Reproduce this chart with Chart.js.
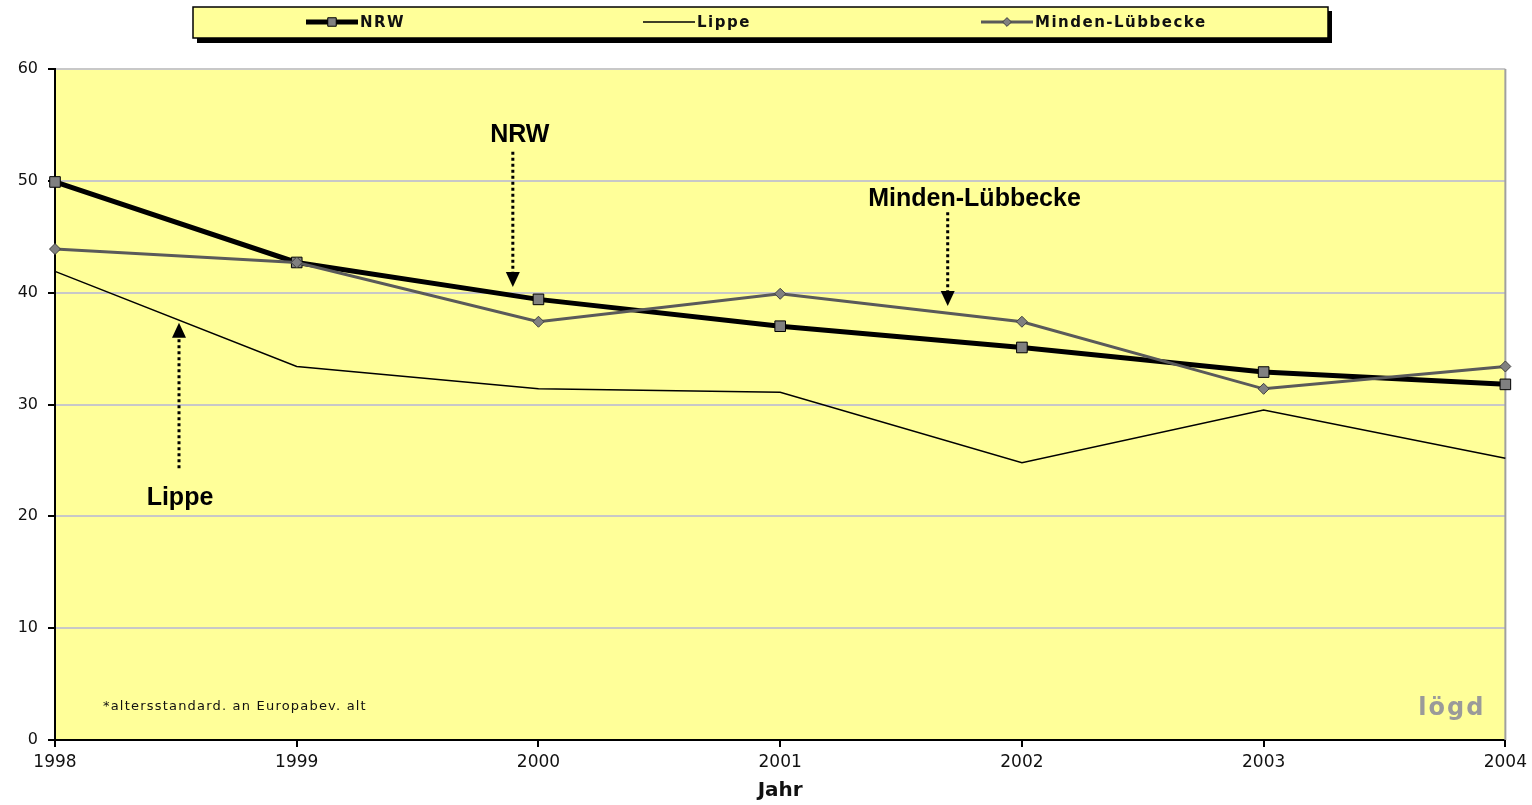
<!DOCTYPE html>
<html>
<head>
<meta charset="utf-8">
<script src="https://cdn.jsdelivr.net/npm/chart.js"></script>
<style>
body { margin: 0; background: #fff; }
#wrap { width: 1532px; height: 805px; position: relative; }
</style>
</head>
<body>
<div id="wrap"><canvas id="myChart"></canvas></div>
<script>
// data
var years = ["1998", "1999", "2000", "2001", "2002", "2003", "2004"];
var nrw = [49.9, 42.7, 39.4, 37.0, 35.1, 32.9, 31.8];
var lippe = [41.9, 33.4, 31.4, 31.1, 24.8, 29.5, 25.2];
var minden = [43.9, 42.7, 37.4, 39.9, 37.4, 31.4, 33.4];
var yTicks = [0, 10, 20, 30, 40, 50, 60];
var seriesNames = ["NRW", "Lippe", "Minden-Lübbecke"];
var xTitle = "Jahr";
var footnote = "*altersstandard. an Europabev. alt";
var logo = "lögd";

// labels with dotted arrows, placed in axis units
var callouts = [
    { text: "NRW", tx: 1.923, ty: 54.1, ax: 1.894, from: 52.6, to: 40.5 },
    { text: "Minden-Lübbecke", tx: 3.804, ty: 48.4, ax: 3.693, from: 47.2, to: 38.8 },
    { text: "Lippe", tx: 0.517, ty: 21.6, ax: 0.513, from: 24.3, to: 37.3 }
];

// where the legend entries start (x of the sample line)
var legendSlots = [306, 643, 981];

var yellow = '#ffff99';

function arrow(ctx, x, y1, y2) {
    var dir = y2 > y1 ? 1 : -1;
    ctx.save();
    ctx.strokeStyle = '#000';
    ctx.fillStyle = '#000';
    ctx.lineWidth = 3;
    ctx.setLineDash([3, 3]);
    ctx.beginPath();
    ctx.moveTo(x, y1);
    ctx.lineTo(x, y2 - dir * 13);
    ctx.stroke();
    ctx.setLineDash([]);
    ctx.beginPath();
    ctx.moveTo(x, y2);
    ctx.lineTo(x - 7, y2 - dir * 15);
    ctx.lineTo(x + 7, y2 - dir * 15);
    ctx.closePath();
    ctx.fill();
    ctx.restore();
}

var plotBack = {
    id: 'plotBack',
    beforeDraw: function(chart) {
        var a = chart.chartArea, ctx = chart.ctx;
        ctx.save();
        ctx.fillStyle = yellow;
        ctx.fillRect(a.left, a.top, a.right - a.left, a.bottom - a.top);
        ctx.restore();
    },
    beforeDatasetsDraw: function(chart) {
        var a = chart.chartArea, ctx = chart.ctx;
        ctx.save();
        ctx.strokeStyle = '#a0a0a0';
        ctx.lineWidth = 2;
        ctx.beginPath();
        ctx.moveTo(a.right, a.top);
        ctx.lineTo(a.right, a.bottom);
        ctx.stroke();
        ctx.restore();
    }
};

var extras = {
    id: 'extras',
    afterDraw: function(chart) {
        var ctx = chart.ctx, xs = chart.scales.x, ys = chart.scales.y;
        var a = chart.chartArea;

        // callouts
        ctx.save();
        ctx.font = 'bold 25px "Liberation Sans", Arial, sans-serif';
        ctx.fillStyle = '#000';
        ctx.textAlign = 'center';
        ctx.textBaseline = 'middle';
        callouts.forEach(function(c) {
            ctx.fillText(c.text, xs.getPixelForValue(c.tx), ys.getPixelForValue(c.ty));
            arrow(ctx, xs.getPixelForValue(c.ax), ys.getPixelForValue(c.from), ys.getPixelForValue(c.to));
        });
        ctx.restore();

        // footnote and logo
        ctx.save();
        ctx.fillStyle = '#111';
        ctx.font = '13px "DejaVu Sans", sans-serif';
        ctx.letterSpacing = '1.2px';
        ctx.textBaseline = 'middle';
        ctx.fillText(footnote, 103, 707);
        ctx.fillStyle = '#9a9a9a';
        ctx.font = 'bold 24px "DejaVu Sans", sans-serif';
        ctx.letterSpacing = '2px';
        ctx.textAlign = 'right';
        ctx.textBaseline = 'alphabetic';
        ctx.fillText(logo, a.right - 20, 715);
        ctx.restore();

        // legend box with shadow
        ctx.save();
        ctx.fillStyle = '#000';
        ctx.fillRect(197, 11, 1135, 32);
        ctx.fillStyle = yellow;
        ctx.fillRect(193, 7, 1135, 31);
        ctx.strokeStyle = '#000';
        ctx.lineWidth = 1.5;
        ctx.strokeRect(193, 7, 1135, 31);

        var cy = 22;
        chart.data.datasets.forEach(function(ds, i) {
            var x0 = legendSlots[i], len = 52;
            ctx.strokeStyle = ds.borderColor;
            ctx.lineWidth = ds.borderWidth;
            ctx.beginPath();
            ctx.moveTo(x0, cy);
            ctx.lineTo(x0 + len, cy);
            ctx.stroke();
            if (ds.pointRadius > 0) {
                ctx.fillStyle = ds.pointBackgroundColor;
                ctx.strokeStyle = ds.pointBorderColor;
                ctx.lineWidth = ds.pointBorderWidth;
                Chart.helpers.drawPoint(ctx, {
                    pointStyle: ds.pointStyle,
                    rotation: 0,
                    radius: ds.pointRadius * 0.8,
                    borderWidth: ds.pointBorderWidth
                }, x0 + len / 2, cy);
            }
            ctx.fillStyle = '#111';
            ctx.font = 'bold 15px "DejaVu Sans", sans-serif';
            ctx.letterSpacing = '1.5px';
            ctx.textBaseline = 'middle';
            ctx.textAlign = 'left';
            ctx.fillText(ds.label, x0 + len + 2, cy + 1);
        });
        ctx.restore();
    }
};

var ctx = document.getElementById('myChart').getContext('2d');
var chart = new Chart(ctx, {
    type: 'line',
    data: {
        labels: years,
        datasets: [{
            label: seriesNames[0],
            data: nrw,
            borderColor: '#000',
            borderWidth: 5,
            pointStyle: 'rect',
            pointRadius: 7.5,
            pointBackgroundColor: '#808080',
            pointBorderColor: '#000',
            pointBorderWidth: 1,
            order: 1,
            clip: false
        }, {
            label: seriesNames[1],
            data: lippe,
            borderColor: '#000',
            borderWidth: 1.5,
            pointRadius: 0,
            order: 2,
            clip: false
        }, {
            label: seriesNames[2],
            data: minden,
            borderColor: '#5a5a5a',
            borderWidth: 3,
            pointStyle: 'rectRot',
            pointRadius: 5.5,
            pointBackgroundColor: '#808080',
            pointBorderColor: '#404040',
            pointBorderWidth: 1,
            order: 0,
            clip: false
        }]
    },
    options: {
        responsive: true,
        maintainAspectRatio: false,
        animation: false,
        layout: { padding: { top: 69, right: 26, bottom: 0, left: 0 } },
        plugins: {
            legend: { display: false },
            tooltip: { enabled: false }
        },
        elements: { line: { tension: 0 } },
        scales: {
            x: {
                offset: false,
                grid: { drawOnChartArea: false, tickLength: 7, tickColor: '#000', lineWidth: 2 },
                border: { color: '#000', width: 2 },
                ticks: {
                    color: '#111',
                    padding: 5,
                    maxRotation: 0,
                    font: { family: '"DejaVu Sans", sans-serif', size: 17 }
                },
                title: {
                    display: true,
                    text: xTitle,
                    color: '#111',
                    padding: { top: 0, bottom: 2 },
                    font: { family: '"DejaVu Sans", sans-serif', size: 20, weight: 'bold' }
                },
                afterFit: function(s) { s.height = 65; }
            },
            y: {
                min: 0,
                max: 60,
                afterBuildTicks: function(s) {
                    s.ticks = yTicks.map(function(v) { return { value: v }; });
                },
                grid: { color: '#c8c8c8', lineWidth: 2, tickLength: 7, tickColor: '#000' },
                border: { color: '#000', width: 2 },
                ticks: {
                    color: '#111',
                    padding: 10,
                    font: { family: '"DejaVu Sans", sans-serif', size: 16 }
                },
                afterFit: function(s) { s.width = 55; }
            }
        }
    },
    plugins: [plotBack, extras]
});
</script>
</body>
</html>
